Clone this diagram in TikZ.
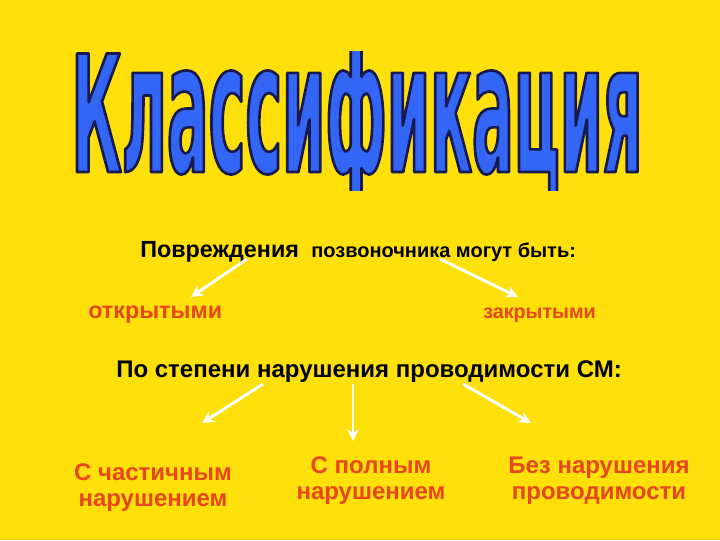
\documentclass[tikz,border=0pt]{standalone}
\usepackage{fontspec}
\setmainfont{Liberation Sans}
\IfFontExistsTF{Fira Sans Heavy}{%
  \newfontfamily\ttlcap[FakeStretch=0.394]{Fira Sans Heavy}%
  \newfontfamily\ttllow[FakeStretch=0.362]{Fira Sans Heavy}%
  \newcommand{\capsize}{\fontsize{129.5pt}{130pt}\selectfont}%
  \newcommand{\lowsize}{\fontsize{141pt}{141pt}\selectfont}%
}{%
  \newfontfamily\ttlcap[FakeStretch=0.379]{DejaVu Sans}%
  \newfontfamily\ttllow[FakeStretch=0.341]{DejaVu Sans}%
  \newcommand{\capsize}{\bfseries\fontsize{122pt}{122pt}\selectfont}%
  \newcommand{\lowsize}{\bfseries\fontsize{136pt}{136pt}\selectfont}%
}
\usetikzlibrary{arrows.meta}
\definecolor{bgyellow}{HTML}{FFE00A}
\definecolor{lblred}{HTML}{E8461C}
\definecolor{ttlblue}{HTML}{3366F5}
\newcommand{\ttlword}{\special{pdf:literal direct 2 Tr 0.1 0.1 0.32 RG 2 w 1 j}%
{\ttlcap\capsize К}%
{\ttllow\lowsize лассификация}%
\special{pdf:literal direct 0 Tr}}
\tikzset{
  px/.style={x=0.75pt,y=-0.75pt},
  hdr/.style={text=black, inner sep=0pt},
  lbl/.style={font=\fontsize{18pt}{19.5pt}\selectfont\bfseries, text=lblred, inner sep=0pt, align=center},
  warrow/.style={draw=white, line width=2.2pt, -{Stealth[length=9pt,width=9pt]}},
  ttl/.style={inner sep=0pt, anchor=base, text=ttlblue}
}
\begin{document}
\begin{tikzpicture}[px]
\fill[bgyellow] (0,0) rectangle (720,540);
\useasboundingbox (0,0) rectangle (720,540);
% title
\begin{scope}
\clip (0,51) rectangle (720,190);
\node[ttl] (title) at (357,172) {\ttlword};
\end{scope}
% line 1
\node[hdr, anchor=base west, font=\fontsize{17.5pt}{20pt}\selectfont\bfseries] (pov) at (140,257) {Повреждения};
\node[hdr, anchor=base west, font=\fontsize{15pt}{17pt}\selectfont\bfseries] (pozv) at (311,257) {позвоночника могут быть:};
\node[lbl, anchor=base west, font=\fontsize{17.5pt}{20pt}\selectfont\bfseries] (otkr) at (88,318) {открытыми};
\node[lbl, anchor=base west, font=\fontsize{14.8pt}{17pt}\selectfont\bfseries] (zakr) at (483,318) {закрытыми};
\coordinate (a1s) at (247,259);
\coordinate (a1e) at (191,297);
\coordinate (a2s) at (440,259);
\coordinate (a2e) at (518,297);
\draw[warrow] (a1s) -- (a1e);
\draw[warrow] (a2s) -- (a2e);
% line 2
\node[hdr, anchor=base west, font=\fontsize{18pt}{20pt}\selectfont\bfseries] (deg) at (116,377) {По степени нарушения проводимости СМ:};
\coordinate (b1s) at (263,384);
\coordinate (b1e) at (202,423);
\coordinate (b2s) at (353,384);
\coordinate (b2e) at (353,441);
\coordinate (b3s) at (463,384);
\coordinate (b3e) at (531,423);
\draw[warrow] (b1s) -- (b1e);
\draw[warrow] (b2s) -- (b2e);
\draw[warrow] (b3s) -- (b3e);
% bottom labels (anchor = baseline of the last line)
\node[lbl, anchor=base] (l1) at (153,506) {С частичным\\нарушением};
\node[lbl, anchor=base] (l2) at (371,499) {С полным\\нарушением};
\node[lbl, anchor=base] (l3) at (599,499) {Без нарушения\\проводимости};
\end{tikzpicture}
\end{document}
